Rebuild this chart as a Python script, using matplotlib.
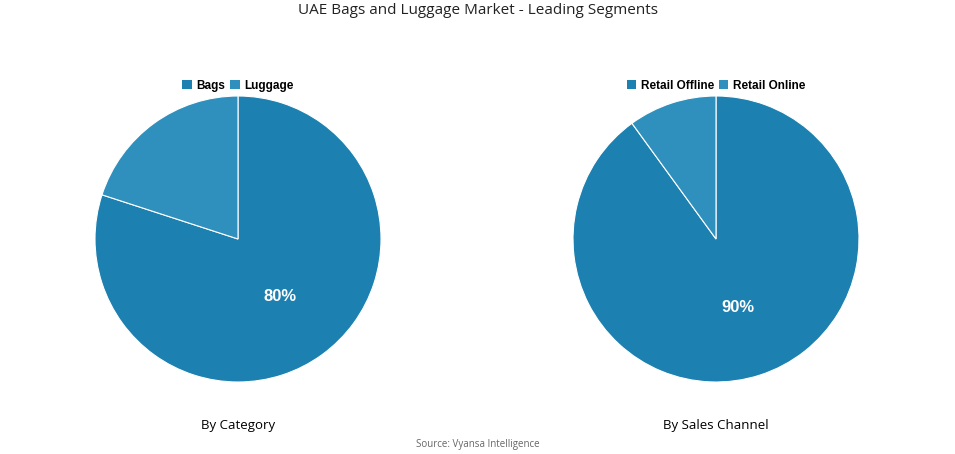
import numpy as np
import matplotlib.pyplot as plt
from matplotlib.patches import Patch

title = "UAE Bags and Luggage Market - Leading Segments"
source = "Source: Vyansa Intelligence"

cat_labels = ["Bags", "Luggage"]
cat_values = [80, 20]
chan_labels = ["Retail Offline", "Retail Online"]
chan_values = [90, 10]

colors = ["#1c80b0", "#2f90bd"]
W, H = 955, 454

fig = plt.figure(figsize=(W / 100, H / 100), dpi=100)
fig.patch.set_facecolor("white")


def draw_pie(cx, cy, r, labels, values, subtitle):
    ax = fig.add_axes([(cx - r) / W, (H - cy - r) / H, 2 * r / W, 2 * r / H])
    ax.pie(values, colors=colors, startangle=90, counterclock=False,
           wedgeprops=dict(edgecolor="white", linewidth=0.8))
    # only the largest slice gets a label
    ang = np.deg2rad(90 - 360 * values[0] / sum(values) / 2)
    ax.text(0.5 * np.cos(ang), 0.5 * np.sin(ang), f"{values[0]}%", color="white",
            fontsize=12, fontweight="bold", ha="center", va="center",
            family="Liberation Sans")
    ax.set_xlim(-1, 1)
    ax.set_ylim(-1, 1)
    handles = [Patch(facecolor=c, label=l) for c, l in zip(colors, labels)]
    fig.legend(handles=handles, loc="center", bbox_to_anchor=(cx / W, 1 - 86 / H),
               ncol=2, frameon=False, handlelength=0.8, handleheight=0.8,
               handletextpad=0.4, columnspacing=0.4,
               prop=dict(family="Liberation Sans", weight="bold", size=8.5))
    fig.text(cx / W, 1 - 425 / H, subtitle, ha="center", va="center",
             fontsize=9.5, family="Open Sans")


draw_pie(238, 239, 143, cat_labels, cat_values, "By Category")
draw_pie(716, 239, 143, chan_labels, chan_values, "By Sales Channel")

fig.text(0.5, 1 - 11 / H, title, ha="center", va="center", fontsize=11,
         family="Open Sans", color="#222222")
fig.text(0.5, 1 - 444 / H, source, ha="center", va="center", fontsize=7,
         family="Open Sans", color="#666666")

fig.savefig("out.png", dpi=100)
